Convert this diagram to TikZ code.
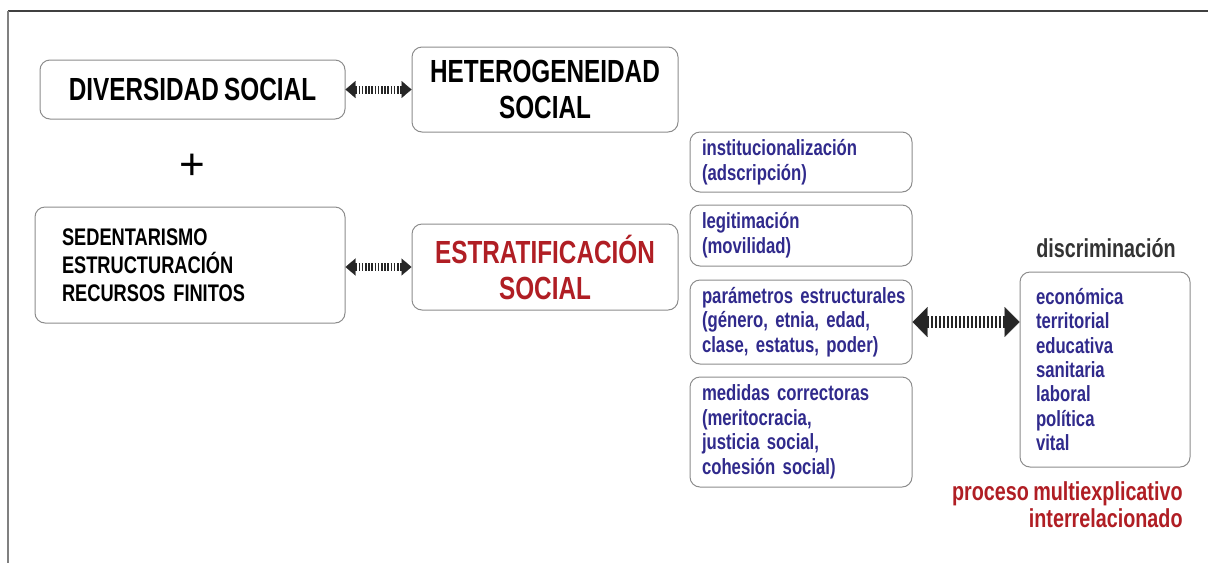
\documentclass[tikz,border=0pt]{standalone}
\usepackage{fontspec}
\setmainfont{Liberation Sans}[FakeStretch=0.76, WordSpace=0.8]
\newfontfamily\plainsans{Liberation Sans}
\usetikzlibrary{arrows.meta}
\definecolor{txtblue}{RGB}{48,42,140}
\definecolor{txtred}{RGB}{176,30,36}
\definecolor{boxgray}{RGB}{140,140,140}
\begin{document}
\begin{tikzpicture}[x=0.5pt,y=-0.5pt,
  box/.style={draw=boxgray, line width=0.5pt, rounded corners=5pt, inner sep=0pt, font=\bfseries},
  bigbox/.style={box, font=\fontsize{16}{18}\selectfont\bfseries, align=center},
  smallbox/.style={box, minimum width=111pt, text width=99pt, inner xsep=6pt, align=left, text=txtblue, font=\fontsize{11}{12.3}\selectfont\bfseries},
  link/.style={line width=4pt, dash pattern=on 0.8pt off 0.8pt, black!85,
    {Triangle[length=5pt,width=8.5pt,line width=0.1pt]}-{Triangle[length=5pt,width=8.5pt,line width=0.1pt]}},
  biglink/.style={line width=6pt, dash pattern=on 1pt off 1pt, black!85,
    {Triangle[length=7.5pt,width=15pt,line width=0.1pt]}-{Triangle[length=7.5pt,width=15pt,line width=0.1pt]}}]
\useasboundingbox (0,0) rectangle (1208,563);
\draw[black!75, line width=0.8pt] (8,11) -- (1208,11);
\draw[gray, line width=1pt] (8,11) -- (8,563);

\node[bigbox, minimum width=152.5pt, minimum height=29.5pt] (div) at (192.5,89.5) {DIVERSIDAD SOCIAL};
\node[bigbox, minimum width=133pt, minimum height=42.5pt] (het) at (545,89.5) {HETEROGENEIDAD\\SOCIAL};
\node[font=\plainsans\fontsize{22}{22}\selectfont] (plus) at (192,167) {+};
\node[box, text width=128pt, inner xsep=13.5pt, minimum height=58pt, align=left, font=\fontsize{12}{14}\selectfont\bfseries] (sed) at (190,265) {SEDENTARISMO\\ESTRUCTURACIÓN\\RECURSOS FINITOS};
\node[bigbox, minimum width=133pt, minimum height=43pt, text=txtred] (est) at (545,267) {ESTRATIFICACIÓN\\SOCIAL};

\node[smallbox, minimum height=30pt] (b1) at (801,162) {institucionalización\\(adscripción)};
\node[smallbox, minimum height=30.5pt] (b2) at (801,235.5) {legitimación\\(movilidad)};
\node[smallbox, minimum height=42pt] (b3) at (801,322) {\mbox{parámetros estructurales}\\(género, etnia, edad,\\clase, estatus, poder)};
\node[smallbox, minimum height=55pt] (b4) at (801,432) {medidas correctoras\\(meritocracia,\\justicia social,\\cohesión social)};

\node[box, text width=69pt, inner xsep=8pt, minimum height=97.5pt, align=left, text=txtblue, font=\fontsize{11}{12.2}\selectfont\bfseries] (disc) at (1105,369.5) {económica\\territorial\\educativa\\sanitaria\\laboral\\política\\vital};
\node[font=\fontsize{13}{15}\selectfont\bfseries, text=black!80] (dlab) at (1106,248) {discriminación};
\node[anchor=east, align=right, inner sep=0pt, text=txtred, font=\fontsize{13}{13.5}\selectfont\bfseries] (proc) at (1183,505) {proceso multiexplicativo\\interrelacionado};

\draw[link] (div.east) -- (div.east -| het.west);
\draw[link] (sed.east |- est.west) -- (est.west);
\draw[biglink] (b3.east) -- (b3.east -| disc.west);
\end{tikzpicture}
\end{document}
